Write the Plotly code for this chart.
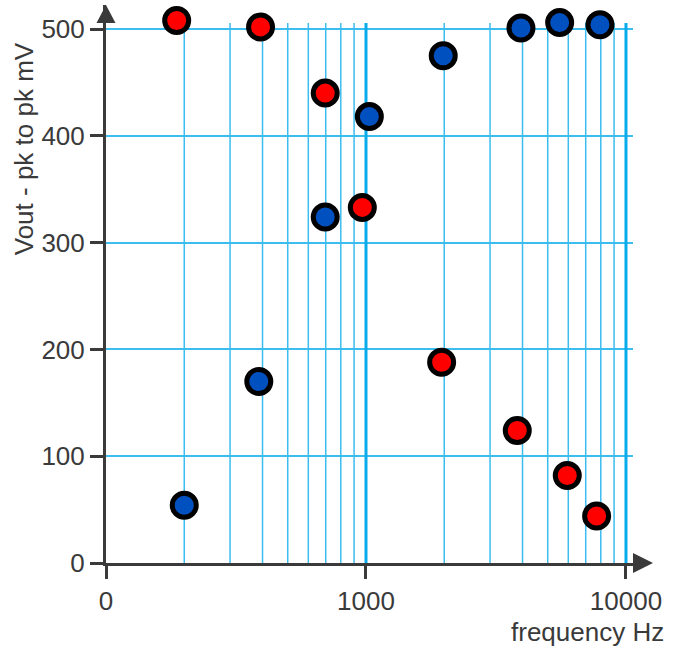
import plotly.graph_objects as go

# Data
red_freq = [187, 393, 697, 968, 1954, 3818, 5945, 7710]
red_vout = [508, 502, 440, 333, 188, 124, 82, 44]
blue_freq = [200, 387, 697, 1030, 1982, 3945, 5558, 7943]
blue_vout = [54, 170, 324, 418, 475, 501, 506, 504]

x_tickvals = [100, 1000, 10000]
x_ticktext = ["0", "1000", "10000"]
x_minor = [200, 300, 400, 500, 600, 700, 800, 900,
           2000, 3000, 4000, 5000, 6000, 7000, 8000, 9000]
x_major_grid = [1000, 10000]
y_tickvals = [0, 100, 200, 300, 400, 500]
grid_top = 505.6   # where the vertical grid lines stop
y_max = 522.5

AX = "#3a3a3a"
GRID = "#3cbdf0"
GRID_MAJOR = "#08acec"
FONT = "Liberation Sans, Arial, sans-serif"


def vlines(vals):
    xs, ys = [], []
    for v in vals:
        xs += [v, v, None]
        ys += [0, grid_top, None]
    return xs, ys


fig = go.Figure()
for vals, w, col in [(x_minor, 1.5, GRID), (x_major_grid, 3, GRID_MAJOR)]:
    gx, gy = vlines(vals)
    fig.add_trace(go.Scatter(x=gx, y=gy, mode="lines", showlegend=False,
                             hoverinfo="skip", line=dict(color=col, width=w)))

for xs, ys, col in [(red_freq, red_vout, "#ff0000"), (blue_freq, blue_vout, "#0050c0")]:
    fig.add_trace(go.Scatter(
        x=xs, y=ys, mode="markers", cliponaxis=False, showlegend=False,
        marker=dict(size=24, color=col, line=dict(color="black", width=5)),
    ))

fig.update_layout(
    width=678, height=649,
    margin=dict(l=106, r=45, t=5, b=86),
    paper_bgcolor="white", plot_bgcolor="white",
    font=dict(family=FONT, size=26, color=AX),
    xaxis=dict(
        type="log", range=[2, 4.027],
        tickmode="array", tickvals=x_tickvals, ticktext=x_ticktext,
        ticks="outside", ticklen=13, tickwidth=3, tickcolor=AX,
        showline=True, linewidth=3, linecolor=AX,
        showgrid=False, zeroline=False,
        tickfont=dict(size=26, color=AX),
    ),
    yaxis=dict(
        range=[0, y_max],
        tickmode="array", tickvals=y_tickvals,
        ticks="outside", ticklen=13, tickwidth=3, tickcolor=AX,
        showline=True, linewidth=3, linecolor=AX,
        showgrid=True, gridcolor=GRID, gridwidth=1.5,
        zeroline=False,
        tickfont=dict(size=26, color=AX),
    ),
    shapes=[
        # y-axis arrow head
        dict(type="path", xref="paper", yref="paper",
             path="M -0.018 0.9677 L 0.018 0.9677 L 0 1.0 Z",
             fillcolor=AX, line=dict(color=AX, width=0)),
        # x-axis arrow head
        dict(type="path", xref="paper", yref="paper",
             path="M 1.0 -0.0179 L 1.0 0.0179 L 1.038 0 Z",
             fillcolor=AX, line=dict(color=AX, width=0)),
    ],
    annotations=[
        dict(text="Vout - pk to pk mV", xref="paper", yref="paper",
             x=-0.154, y=0.743, textangle=-90, showarrow=False,
             xanchor="center", yanchor="middle",
             font=dict(size=26, color=AX, family=FONT)),
        dict(text="frequency Hz", xref="paper", yref="paper",
             x=1.062, y=-0.1237, showarrow=False,
             xanchor="right", yanchor="middle",
             font=dict(size=26, color=AX, family=FONT)),
    ],
)

fig.write_html("out.html")
